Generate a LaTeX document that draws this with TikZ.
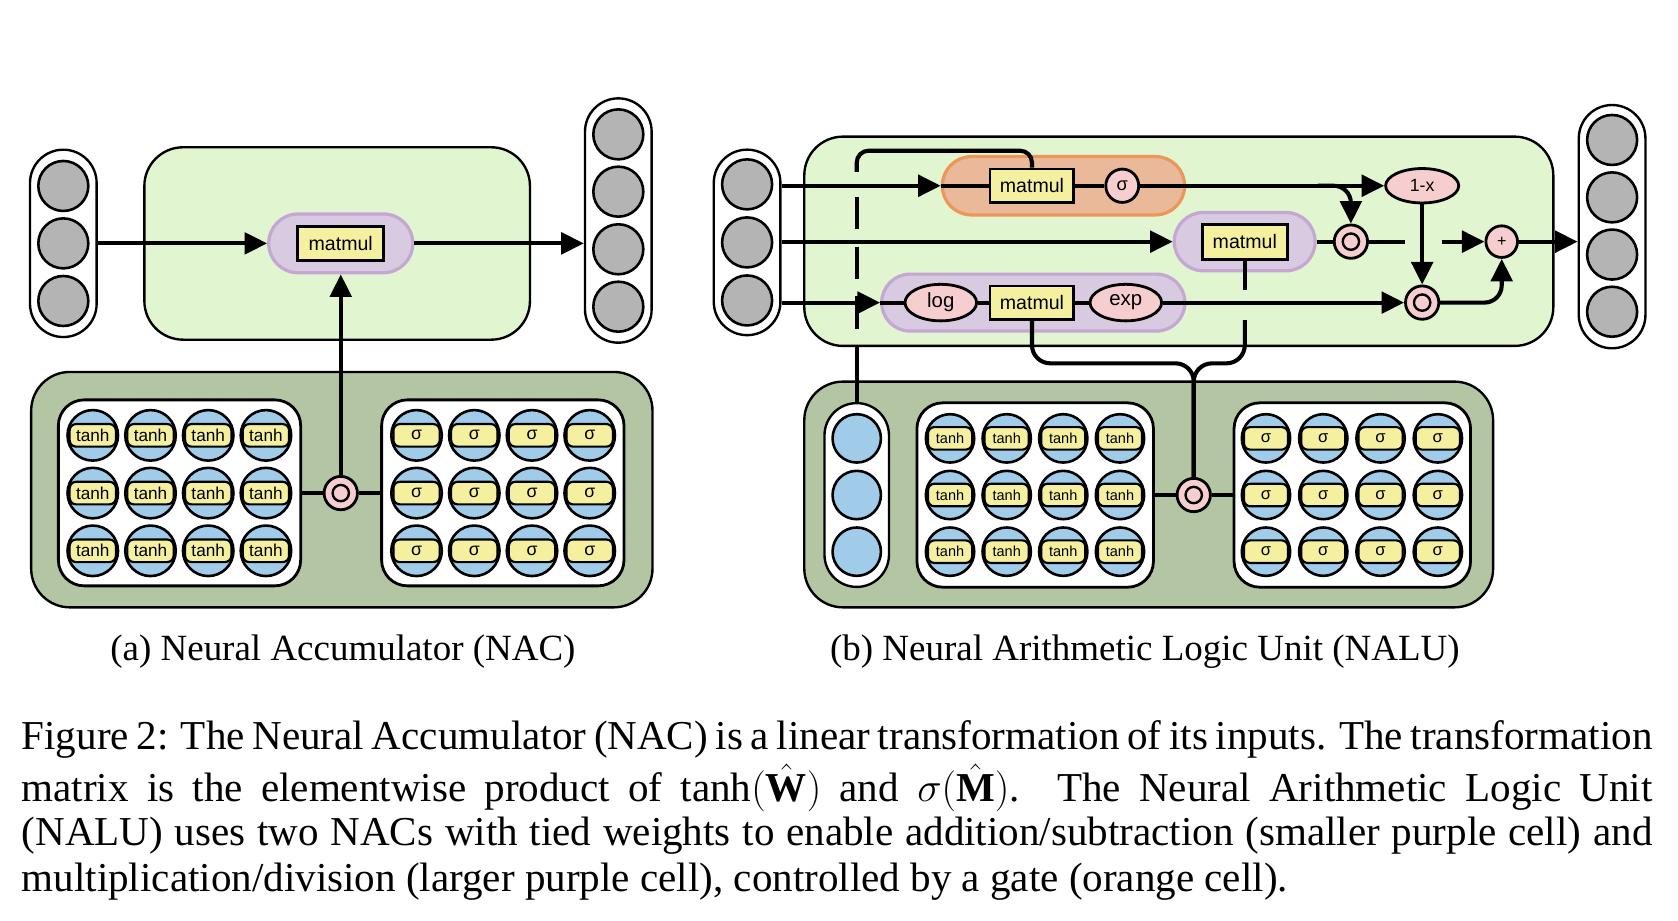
\RequirePackage{fix-cm}
\documentclass[tikz,border=0pt]{standalone}
\usepackage{fontspec}
\setmainfont{Liberation Serif}
\newfontfamily\diag{Liberation Sans}
\usetikzlibrary{arrows.meta,shapes.geometric}
\definecolor{lgreen}{RGB}{224,245,208}
\definecolor{dgreen}{RGB}{180,197,164}
\definecolor{purfill}{RGB}{216,202,224}
\definecolor{purdraw}{RGB}{196,168,210}
\definecolor{orfill}{RGB}{233,185,154}
\definecolor{ordraw}{RGB}{236,150,90}
\definecolor{cyel}{RGB}{245,239,160}
\definecolor{cpink}{RGB}{247,206,208}
\definecolor{cblue}{RGB}{160,204,234}
\definecolor{cgray}{RGB}{180,180,180}
\begin{document}
\begin{tikzpicture}[x=1pt,y=-1pt,
  ln/.style={line width=3.8pt},
  arr/.style={line width=3.8pt,-{Triangle[length=21pt,width=20pt]}},
  boxbg/.style={draw=black,line width=2.2pt,rounded corners=36pt,inner sep=0pt},
  colbox/.style={draw=black,line width=2.2pt,fill=white,inner sep=0pt,minimum width=62pt,rounded corners=31pt},
  gcirc/.style={circle,draw=black,line width=2.4pt,fill=cgray,inner sep=0pt,minimum size=46.5pt},
  bcirc/.style={circle,draw=black,line width=2.4pt,fill=cblue,inner sep=0pt,minimum size=45pt},
  purcap/.style={draw=purdraw,line width=3pt,fill=purfill,inner sep=0pt},
  orcap/.style={draw=ordraw,line width=3pt,fill=orfill,inner sep=0pt},
  mm/.style={draw=black,line width=2.6pt,fill=cyel,inner sep=0pt,minimum width=80pt,minimum height=32pt,font=\fontsize{18.2}{20}\diag},
  mbox/.style={draw=black,line width=2.6pt,fill=white,inner sep=0pt,rounded corners=24pt},
  pinkell/.style={ellipse,draw=black,line width=2.6pt,fill=cpink,inner sep=0pt},
  odot/.style={circle,draw=black,line width=2.6pt,fill=cpink,inner sep=0pt,minimum size=31pt,
    path picture={\draw[line width=2.2pt] (path picture bounding box.center) circle[radius=7.6pt];
      \fill (path picture bounding box.center) circle[radius=2.6pt];}},
  cellA/.style={circle,draw=black,line width=2.4pt,fill=cblue,inner sep=0pt,minimum size=47pt,
    path picture={\draw[fill=cyel,line width=2pt,rounded corners=6pt]
      ([xshift=2pt,yshift=-10.5pt]path picture bounding box.west) rectangle
      ([xshift=-2pt,yshift=10.5pt]path picture bounding box.east);}},
  cellB/.style={circle,draw=black,line width=2.4pt,fill=cblue,inner sep=0pt,minimum size=45pt,
    path picture={\draw[fill=cyel,line width=2pt,rounded corners=6pt]
      ([xshift=2pt,yshift=-10.5pt]path picture bounding box.west) rectangle
      ([xshift=-2pt,yshift=10.5pt]path picture bounding box.east);}},
  capfont/.style={font=\fontsize{38.2}{44}\selectfont,inner sep=0pt,anchor=base west},
  subfont/.style={font=\fontsize{34.4}{40}\selectfont,inner sep=0pt,anchor=base}
]
\fill[white] (0,0) rectangle (1561,856);
\useasboundingbox (0,0) rectangle (1561,856);

% ================= panel (a) =================
\node[boxbg,fill=lgreen,minimum width=358.7pt,minimum height=179pt] (gA) at (313.65,226.5) {};
\node[boxbg,fill=dgreen,minimum width=578pt,minimum height=219pt] (dA) at (318,455.5) {};
\node[colbox,minimum height=174.3pt] (inA) at (58.9,226.4) {};
\foreach \y [count=\k] in {173,226.4,280} \node[gcirc] (iA\k) at (58.9,\y) {};
\node[colbox,minimum height=227.3pt] (outA) at (575.2,205.15) {};
\foreach \y [count=\k] in {125,178.3,231.9,285.3} \node[gcirc] (oA\k) at (575.2,\y) {};
\node[purcap,minimum width=134pt,minimum height=54.7pt,rounded corners=27.3pt] (pA) at (317,226.4) {};
\node[mm] (mA) at (317,226.4) {matmul};
\node[mbox,minimum width=225.4pt,minimum height=173pt] (tA) at (167,458.5) {};
\node[mbox,minimum width=225.5pt,minimum height=173pt] (sA) at (467.75,458.5) {};
\foreach \c [count=\i] in {86.3,140,193.7,247.4}{
  \foreach \r [count=\j] in {405,458.7,512.4}{
    \node[cellA,font=\fontsize{16}{18}\diag] (tAc\i\j) at (\c,\r) {tanh};
  }}
\foreach \c [count=\i] in {387.5,441.2,494.9,548.6}{
  \foreach \r [count=\j] in {405,458.7,512.4}{
    \node[cellA,font=\fontsize{16.5}{18}\diag] (sAc\i\j) at (\c,\r) {σ};
  }}
\node[odot] (odA) at (317,458.7) {};

\draw[arr] (inA.east |- pA.west) -- (pA.west);
\draw[arr] (pA.east) -- (outA.west |- pA.east);
\draw[arr] (odA.north) -- (pA.south);
\draw[ln] (tA.east |- odA.west) -- (odA.west);
\draw[ln] (odA.east) -- (sA.west |- odA.east);

% ================= panel (b) =================
\node[boxbg,fill=lgreen,minimum width=696.8pt,minimum height=194.7pt] (gB) at (1096.6,224.45) {};
\node[boxbg,fill=dgreen,minimum width=640.8pt,minimum height=210pt] (dB) at (1068.6,460) {};
\node[colbox,minimum height=172.6pt] (inB) at (695,225.5) {};
\foreach \y [count=\k] in {171.5,225.5,279.5} \node[gcirc] (iB\k) at (695,\y) {};
\node[colbox,minimum height=226.3pt] (outB) at (1499.7,210.85) {};
\foreach \y [count=\k] in {130.2,183.6,236.8,290} \node[gcirc] (oB\k) at (1499.7,\y) {};

% row 1 (gate)
\node[orcap,minimum width=225.4pt,minimum height=54.3pt,rounded corners=27.1pt] (oC) at (989.3,172.8) {};
\node[mm,minimum width=78pt,minimum height=31pt] (m1) at (960,172.8) {matmul};
\node[pinkell,minimum width=30.6pt,minimum height=31pt,font=\fontsize{17}{18}\diag] (sg) at (1044,172.8) {σ};
\node[pinkell,minimum width=68pt,minimum height=32pt,font=\fontsize{16.5}{18}\diag] (onex) at (1323,172.8) {1-x};
% row 2 (additive NAC)
\node[purcap,minimum width=131pt,minimum height=54.3pt,rounded corners=27.1pt] (p2) at (1157.9,224.8) {};
\node[mm,minimum width=79pt,minimum height=32.6pt] (m2) at (1158,224.8) {matmul};
\node[odot] (od1) at (1256.7,224.8) {};
\node[circle,draw=black,line width=2.6pt,fill=cpink,inner sep=0pt,minimum size=29.4pt,font=\fontsize{15}{16}\diag] (plus) at (1397,224.8) {+};
% row 3 (multiplicative NAC)
\node[purcap,minimum width=282.1pt,minimum height=53pt,rounded corners=26.5pt] (p3) at (961.25,281.5) {};
\node[pinkell,minimum width=66.6pt,minimum height=34pt,font=\fontsize{19}{20}\diag] (logn) at (875.2,281.5) {log};
\node[mm,minimum width=78pt,minimum height=31pt] (m3) at (960,281.5) {matmul};
\node[pinkell,minimum width=66.6pt,minimum height=34pt,font=\fontsize{19}{20}\diag] (expn) at (1047.3,281.5) {exp};
\node[odot] (od2) at (1323,281.5) {};

% bottom (b)
\node[colbox,minimum width=60pt,minimum height=171pt,rounded corners=30pt] (bc) at (797,460.5) {};
\foreach \y [count=\k] in {407.8,460.5,513.2} \node[bcirc] (bc\k) at (797,\y) {};
\node[mbox,minimum width=220pt,minimum height=171.5pt] (tB) at (963,460.5) {};
\node[mbox,minimum width=220pt,minimum height=171.5pt] (sB) at (1258,460.5) {};
\foreach \c [count=\i] in {883.8,936.5,989.1,1041.9}{
  \foreach \r [count=\j] in {407.8,460.5,513.2}{
    \node[cellB,font=\fontsize{13.5}{15}\diag] (tBc\i\j) at (\c,\r) {tanh};
  }}
\foreach \c [count=\i] in {1177.7,1231,1284.3,1337.6}{
  \foreach \r [count=\j] in {407.8,460.5,513.2}{
    \node[cellB,font=\fontsize{15.5}{16}\diag] (sBc\i\j) at (\c,\r) {σ};
  }}
\node[odot] (odB) at (1110.5,460.5) {};

% connector coordinates
\coordinate (br1) at (1226,172.8);
\coordinate (gapL) at (1307,224.8);
\coordinate (gapR) at (1341,224.8);
\coordinate (dTop) at (797,140.2);
\coordinate (dSolid) at (797,160);
\coordinate (dDash) at (797,183);
\coordinate (bj) at (1110.5,338);
\coordinate (rTop) at (1158,269.8);
\coordinate (rBot) at (1158,297.7);

% row 1 connectors
\draw[arr] (inB.east |- oC.west) -- (oC.west);
\draw[ln] (oC.west) -- (m1.west);
\draw[ln] (m1.east) -- (sg.west);
\draw[arr] (sg.east) -- (onex.west);
\draw[arr,rounded corners=16pt] (br1) -| (od1.north);
% row 2 connectors
\draw[arr] (inB.east |- p2.west) -- (p2.west);
\draw[ln] (p2.east) -- (od1.west);
\draw[ln] (od1.east) -- (gapL);
\draw[arr] (gapR) -- (plus.west);
\draw[arr] (plus.east) -- (outB.west |- plus.east);
\draw[arr] (onex.south) -- (od2.north);
% row 3 connectors
\draw[arr] (inB.east |- p3.west) -- (p3.west);
\draw[ln] (p3.west) -- (logn.west);
\draw[ln] (logn.east) -- (m3.west);
\draw[ln] (m3.east) -- (expn.west);
\draw[arr] (expn.east) -- (od2.west);
\draw[arr,rounded corners=16pt] (od2.east) -| (plus.south);
% tied weight path from the blue column
\draw[ln] (bc.north) -- (bc.north |- gB.south);
\draw[ln,dash pattern=on 30.4pt off 16pt] (dDash) -- (bc.north |- gB.south);
\draw[ln,rounded corners=11pt] (dSolid) -- (dTop) -| (m1.north);
% brace from the weight product
\draw[ln,rounded corners=17pt] (m3.south) |- (bj) -- (odB.north);
\draw[ln] (m2.south) -- (rTop);
\draw[ln,rounded corners=17pt] (rBot) |- (bj) -- (odB.north);
\draw[ln] (tB.east |- odB.west) -- (odB.west);
\draw[ln] (odB.east) -- (sB.west |- odB.east);

% ================= captions =================
\node[subfont] (subA) at (319,614) {(a)\ Neural Accumulator (NAC)};
\node[subfont] (subB) at (1065,614) {(b)\ Neural Arithmetic Logic Unit (NALU)};
\node[capfont] (cap1) at (20,697) {\makebox[1517pt][s]{Figure 2: The Neural Accumulator (NAC) is a linear transformation of its inputs. The transformation}};
\node[capfont] (cap2) at (20,746) {\makebox[1517pt][s]{matrix is the elementwise product of $\tanh(\smash{\hat{\mathbf{W}}})$ and $\sigma(\smash{\hat{\mathbf{M}}})$. The Neural Arithmetic Logic Unit}};
\node[capfont] (cap3) at (20,787) {\makebox[1517pt][s]{(NALU) uses two NACs with tied weights to enable addition/subtraction (smaller purple cell) and}};
\node[capfont] (cap4) at (20,829) {multiplication/division (larger purple cell), controlled by a gate (orange cell).};
\end{tikzpicture}
\end{document}
